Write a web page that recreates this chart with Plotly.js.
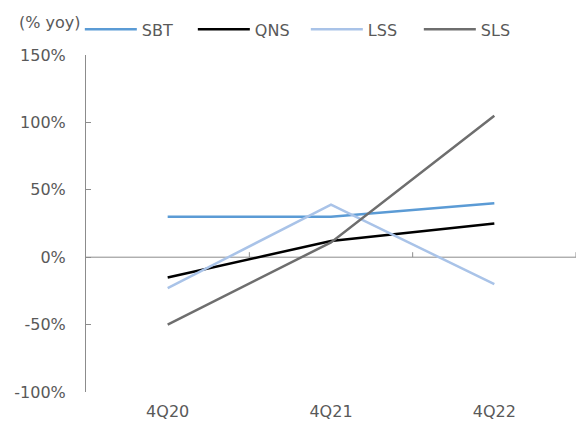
<!DOCTYPE html>
<html>
<head>
<meta charset="utf-8">
<script src="https://cdn.plot.ly/plotly-3.0.1.min.js"></script>
<style>
  html, body { margin: 0; padding: 0; background: #fff; }
  #chart { width: 580px; height: 425px; }
</style>
</head>
<body>
<div id="chart"></div>
<script>
// Quarterly growth, % year on year
const quarters = ['4Q20', '4Q21', '4Q22'];
const seriesNames = ['SBT', 'QNS', 'LSS', 'SLS'];
const sbt = [30, 30, 40];
const qns = [-15, 12, 25];
const lss = [-23, 39, -20];
const sls = [-50, 11, 105];
const yTicks = [-100, -50, 0, 50, 100, 150];

const seriesValues = [sbt, qns, lss, sls];
const seriesColors = ['#5B9BD5', '#000000', '#A9C3E8', '#6E6E6E'];

const textColor = '#595959';
const axisColor = '#8C8C8C';
const font = { family: 'DejaVu Sans, Verdana, sans-serif', size: 16, color: textColor };

const traces = seriesNames.map((name, i) => ({
  type: 'scatter',
  mode: 'lines',
  name: name,
  x: quarters,
  y: seriesValues[i],
  line: { color: seriesColors[i], width: 2.5 },
  hoverinfo: 'skip'
}));

// category boundaries, used for the tick marks on the zero line
const boundaries = quarters.map((_, i) => i - 0.5).concat([quarters.length - 0.5]);
const yMin = yTicks[0], yMax = yTicks[yTicks.length - 1];

const shapes = [{
  type: 'line', layer: 'below', xref: 'x', yref: 'y',
  x0: boundaries[0], x1: boundaries[boundaries.length - 1], y0: 0, y1: 0,
  line: { color: axisColor, width: 1 }
}].concat(boundaries.slice(1).map(b => ({
  type: 'line', layer: 'below', xref: 'x', yref: 'y',
  ysizemode: 'pixel', yanchor: 0,
  x0: b, x1: b, y0: 0, y1: 5,
  line: { color: axisColor, width: 1 }
})));

const layout = {
  width: 580,
  height: 425,
  margin: { l: 86, r: 4, t: 55, b: 33 },
  paper_bgcolor: '#ffffff',
  plot_bgcolor: '#ffffff',
  font: font,
  showlegend: true,
  legend: {
    orientation: 'h',
    x: -0.0126,
    xanchor: 'left',
    y: 1.076,
    yanchor: 'middle',
    font: font,
    itemwidth: 52,
    entrywidth: 46,
    entrywidthmode: 'pixels',
    bgcolor: 'rgba(0,0,0,0)'
  },
  xaxis: {
    type: 'category',
    categoryarray: quarters,
    range: [boundaries[0], boundaries[boundaries.length - 1]],
    showline: false,
    showgrid: false,
    zeroline: false,
    ticks: '',
    ticklabelstandoff: 8,
    tickfont: font,
    fixedrange: true
  },
  yaxis: {
    range: [yMin, yMax],
    tickmode: 'array',
    tickvals: yTicks,
    ticktext: yTicks.map(v => v + '%'),
    showline: true,
    linecolor: axisColor,
    linewidth: 1,
    ticks: 'inside',
    ticklen: 5,
    tickwidth: 1,
    tickcolor: axisColor,
    showgrid: false,
    zeroline: false,
    ticklabelstandoff: 16,
    tickfont: font,
    fixedrange: true
  },
  shapes: shapes,
  annotations: [{
    text: '(% yoy)',
    xref: 'paper',
    yref: 'paper',
    x: -0.141,
    xanchor: 'left',
    y: 1.095,
    yanchor: 'middle',
    showarrow: false,
    font: font
  }]
};

Plotly.newPlot('chart', traces, layout, { displayModeBar: false, staticPlot: true });
</script>
</body>
</html>
